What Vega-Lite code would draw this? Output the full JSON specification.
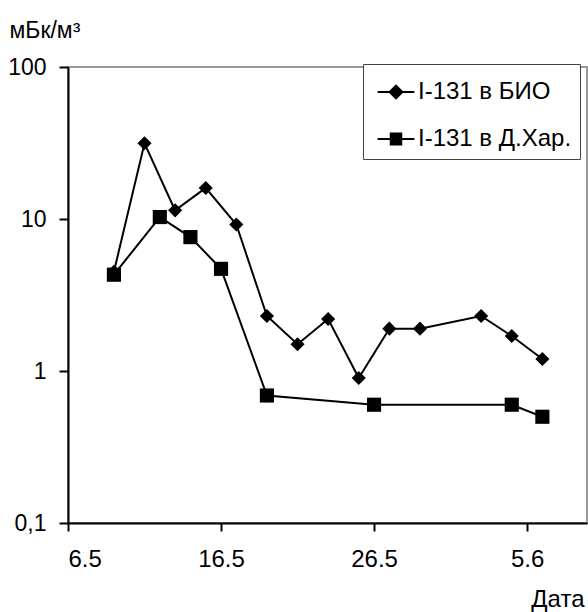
{
  "$schema": "https://vega.github.io/schema/vega-lite/v6.json",
  "autosize": "none",
  "width": 519,
  "height": 456,
  "padding": {"left": 68, "top": 67, "right": 1, "bottom": 89},
  "background": "white",
  "config": {
    "view": {"stroke": "#9a9a9a", "strokeWidth": 2},
    "font": "Liberation Sans",
    "axis": {"labelFont": "Liberation Sans", "titleFont": "Liberation Sans", "labelColor": "black", "titleColor": "black", "domainColor": "black", "domainWidth": 2, "tickColor": "black", "tickWidth": 2, "grid": false}
  },
  "data": {"values": [
    {"series": "I-131 в БИО", "date": "2011-05-09", "value": 4.5},
    {"series": "I-131 в БИО", "date": "2011-05-11", "value": 31.5},
    {"series": "I-131 в БИО", "date": "2011-05-13", "value": 11.4},
    {"series": "I-131 в БИО", "date": "2011-05-15", "value": 16.0},
    {"series": "I-131 в БИО", "date": "2011-05-17", "value": 9.2},
    {"series": "I-131 в БИО", "date": "2011-05-19", "value": 2.3},
    {"series": "I-131 в БИО", "date": "2011-05-21", "value": 1.5},
    {"series": "I-131 в БИО", "date": "2011-05-23", "value": 2.2},
    {"series": "I-131 в БИО", "date": "2011-05-25", "value": 0.9},
    {"series": "I-131 в БИО", "date": "2011-05-27", "value": 1.9},
    {"series": "I-131 в БИО", "date": "2011-05-29", "value": 1.9},
    {"series": "I-131 в БИО", "date": "2011-06-02", "value": 2.3},
    {"series": "I-131 в БИО", "date": "2011-06-04", "value": 1.7},
    {"series": "I-131 в БИО", "date": "2011-06-06", "value": 1.2},
    {"series": "I-131 в Д.Хар.", "date": "2011-05-09", "value": 4.3},
    {"series": "I-131 в Д.Хар.", "date": "2011-05-12", "value": 10.3},
    {"series": "I-131 в Д.Хар.", "date": "2011-05-14", "value": 7.6},
    {"series": "I-131 в Д.Хар.", "date": "2011-05-16", "value": 4.7},
    {"series": "I-131 в Д.Хар.", "date": "2011-05-19", "value": 0.69},
    {"series": "I-131 в Д.Хар.", "date": "2011-05-26", "value": 0.6},
    {"series": "I-131 в Д.Хар.", "date": "2011-06-04", "value": 0.6},
    {"series": "I-131 в Д.Хар.", "date": "2011-06-06", "value": 0.5}
  ]},
  "encoding": {
    "x": {
      "field": "date", "type": "temporal",
      "scale": {"type": "utc", "domain": [{"year": 2011, "month": 5, "date": 6, "utc": true}, {"year": 2011, "month": 6, "date": 8, "hours": 22, "utc": true}], "nice": false},
      "axis": {
        "values": [{"year": 2011, "month": 5, "date": 6, "utc": true}, {"year": 2011, "month": 5, "date": 16, "utc": true}, {"year": 2011, "month": 5, "date": 26, "utc": true}, {"year": 2011, "month": 6, "date": 5, "utc": true}],
        "labelExpr": "utcFormat(datum.value, '%-d.%-m')",
        "labelFontSize": 24, "tickSize": 8, "labelPadding": 16,
        "title": "Дата", "titleFontSize": 24, "titleFontWeight": "normal",
        "titleAnchor": null, "titleAlign": "right", "titleBaseline": "alphabetic", "titleX": 516, "titleY": 83
      }
    },
    "y": {
      "field": "value", "type": "quantitative",
      "scale": {"type": "log", "domain": [0.1, 100], "nice": false},
      "axis": {
        "values": [0.1, 1, 10, 100],
        "labelExpr": "datum.value < 0.5 ? '0,1' : format(datum.value, 'd')",
        "labelFontSize": 23, "tickSize": 9, "labelPadding": 13,
        "title": "мБк/м³", "titleFontSize": 23, "titleFontWeight": "normal", "titleAngle": 0,
        "titleAnchor": null, "titleAlign": "left", "titleBaseline": "alphabetic", "titleX": -59, "titleY": -30
      }
    }
  },
  "layer": [
    {
      "mark": {"type": "line", "color": "black", "strokeWidth": 2},
      "encoding": {"detail": {"field": "series"}}
    },
    {
      "mark": {"type": "point", "filled": true, "color": "black", "opacity": 1, "size": 200},
      "encoding": {
        "shape": {"condition": {"test": "datum.series === 'I-131 в БИО'", "value": "diamond"}, "value": "square"}
      }
    },
    {
      "mark": {"type": "point", "filled": true, "color": "black", "opacity": 0, "size": 1},
      "encoding": {
        "shape": {
          "field": "series", "type": "nominal",
          "scale": {"domain": ["I-131 в БИО", "I-131 в Д.Хар."], "range": ["M-1.53,-0.08H1.53V0.08H-1.53ZM0,-0.65L0.65,0L0,0.65L-0.65,0Z", "M-1.53,-0.08H1.53V0.08H-1.53ZM-0.52,-0.55H0.52V0.55H-0.52Z"]},
          "legend": {
            "title": " ", "titleFontSize": 2, "titlePadding": 6,
            "orient": "none", "legendX": 295, "legendY": -3,
            "strokeColor": "#444", "fillColor": "white", "padding": 8,
            "symbolSize": 576, "symbolOffset": 13, "labelOffset": 10, "rowPadding": 23,
            "symbolOpacity": 1, "symbolFillColor": "black", "symbolStrokeColor": "black", "symbolStrokeWidth": 0,
            "labelFontSize": 24, "labelFont": "Liberation Sans", "labelColor": "black", "labelLimit": 400
          }
        }
      }
    }
  ]
}
